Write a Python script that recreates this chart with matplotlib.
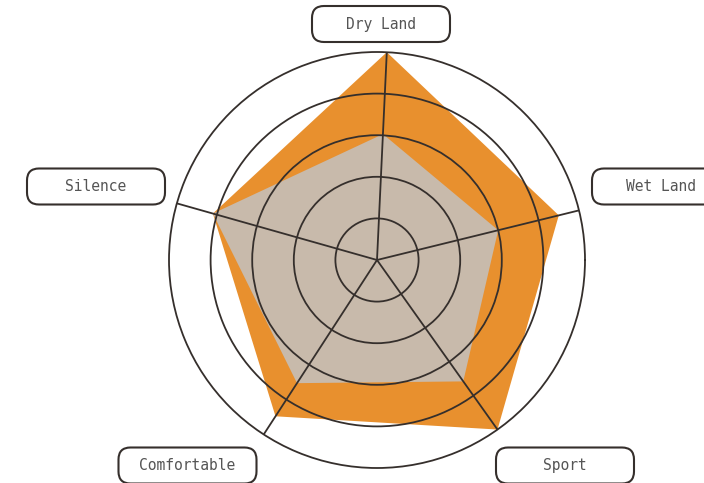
import numpy as np
import matplotlib
matplotlib.use("Agg")
import matplotlib.pyplot as plt
from matplotlib.patches import FancyBboxPatch

# ---- data ----
categories = ["Dry Land", "Wet Land", "Sport", "Comfortable", "Silence"]
outer_values = [5.0, 4.5, 5.0, 4.48, 4.1]
inner_values = [3.03, 3.0, 3.58, 3.53, 4.1]
ring_levels = [1, 2, 3, 4]
r_max = 5

# ---- layout ----
axis_angles_deg = [87.3, 13.8, 305.4, 237.0, 164.2]
# label box centres in pixels (x from left, y from top)
label_box_px = [(381, 24), (661, 186.5), (565, 465.5), (187.5, 465.5), (96, 186.5)]
box_w, box_h = 138, 36

W, H = 704, 483
fig = plt.figure(figsize=(W / 100, H / 100), dpi=100)
fig.patch.set_facecolor("white")

cx, cy, R = 377, 260, 208
ax = fig.add_axes([(cx - R) / W, (H - cy - R) / H, 2 * R / W, 2 * R / H], projection="polar")

theta = np.deg2rad(axis_angles_deg)
th_closed = np.append(theta, theta[0])
outer_closed = np.append(outer_values, outer_values[0])
inner_closed = np.append(inner_values, inner_values[0])

ax.fill(th_closed, outer_closed, color="#E8902E", lw=0, zorder=1)
ax.fill(th_closed, inner_closed, color="#C8BAAB", lw=0, zorder=1.1)

line_col = "#352f2c"
ax.set_xticks(theta)
ax.set_xticklabels([])
ax.set_xlim(0, 2 * np.pi)
ax.set_ylim(0, r_max)
ax.set_yticks(ring_levels)
ax.set_yticklabels([])
ax.grid(True, color=line_col, lw=1.3, zorder=3)
ax.set_axisbelow(False)
ax.spines["polar"].set_color(line_col)
ax.spines["polar"].set_linewidth(1.3)
ax.tick_params(axis="both", which="both", length=0, width=0)
ax.yaxis.set_ticks_position("none")
ax.xaxis.set_ticks_position("none")
for gl in ax.yaxis.get_gridlines() + ax.xaxis.get_gridlines():
    gl.set_solid_capstyle("butt")
ax.set_facecolor("none")

# label boxes
for (px, py), name in zip(label_box_px, categories):
    x0 = (px - box_w / 2) / 100
    y0 = (H - py - box_h / 2) / 100
    box = FancyBboxPatch((x0, y0), box_w / 100, box_h / 100,
                         boxstyle="round,pad=0,rounding_size=0.12",
                         transform=fig.dpi_scale_trans,
                         facecolor="white", edgecolor=line_col, lw=1.5,
                         clip_on=False)
    fig.add_artist(box)
    fig.text(px / W, 1 - py / H, name, ha="center", va="center",
             family="DejaVu Sans Mono", fontsize=10.5, color="#555555")

fig.savefig("out.png", dpi=100)
